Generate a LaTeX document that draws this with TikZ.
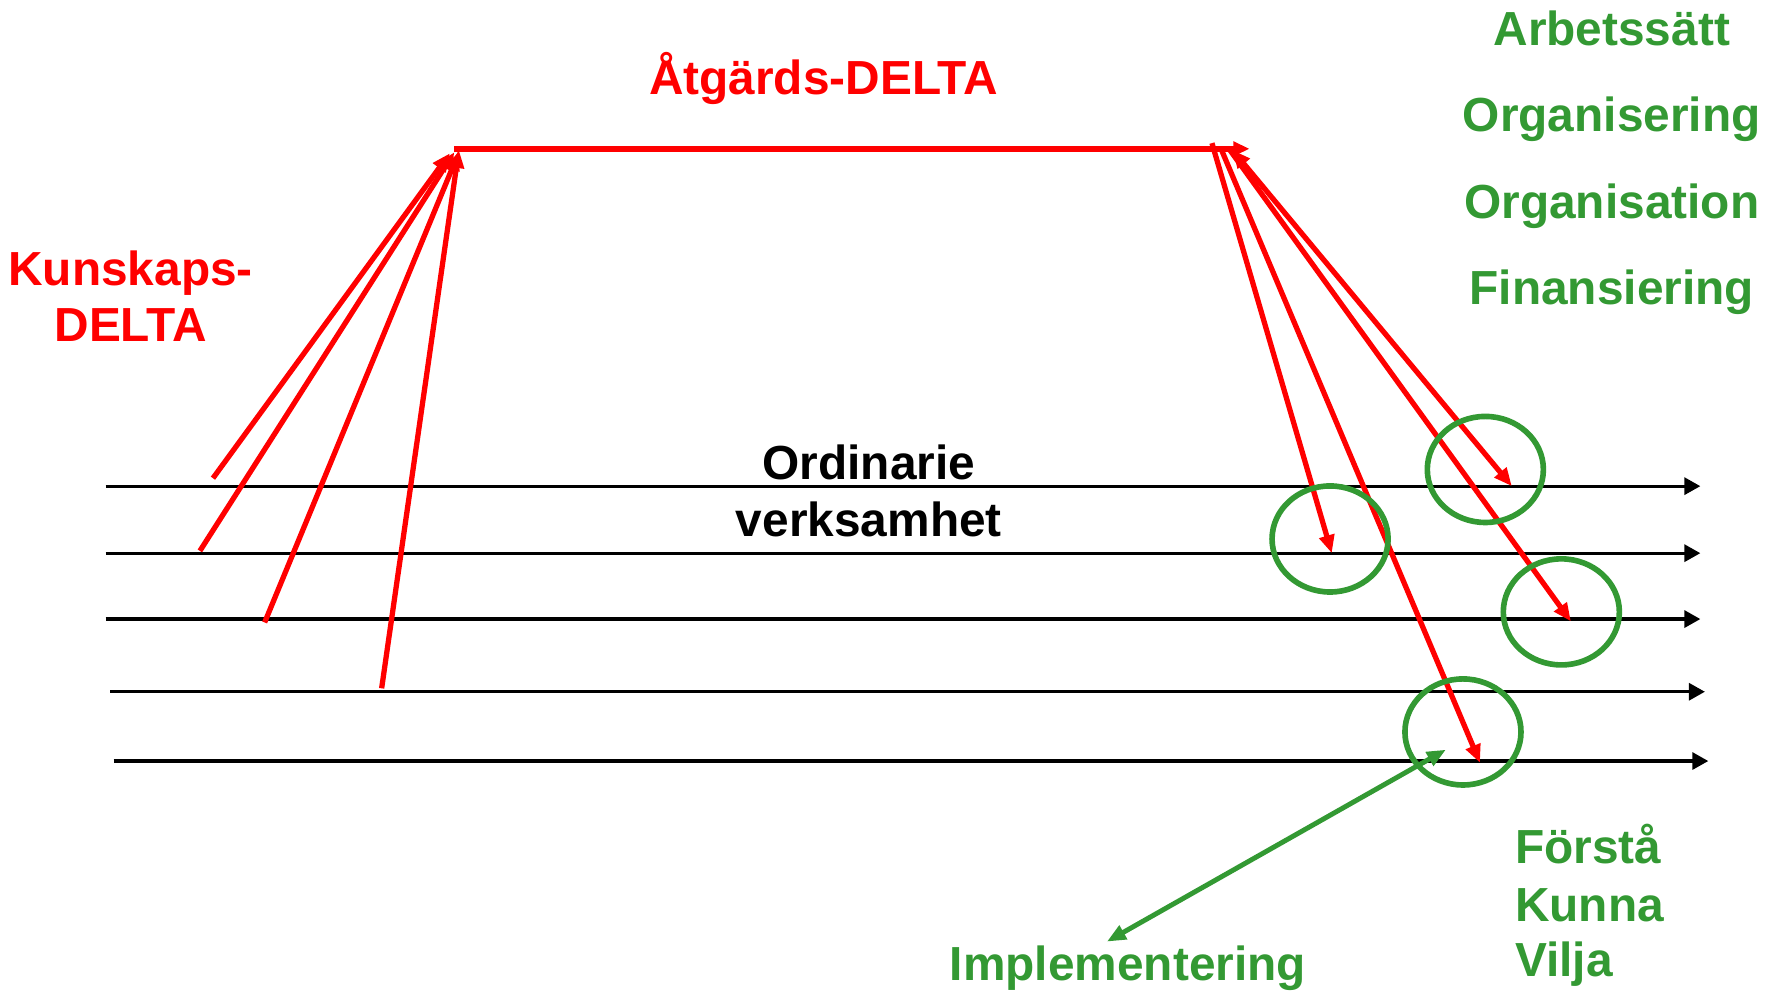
\documentclass[tikz,border=0pt]{standalone}
\usepackage{fontspec}
\setmainfont{Liberation Sans}
\usetikzlibrary{arrows.meta,shapes.geometric}
\definecolor{dgreen}{RGB}{51,153,51}
\begin{document}
\begin{tikzpicture}[x=0.01136cm,y=-0.01136cm,
  lbl/.style={font=\fontsize{13.6}{16}\selectfont\bfseries, inner sep=0pt, outer sep=0pt},
  flow/.style={black, line width=0.9pt, -{Triangle[length=0.16cm,width=0.17cm]}},
  redarr/.style={red, line width=1.5pt, -{Triangle[length=0.18cm,width=0.15cm]}},
  redtop/.style={red, line width=1.8pt, -{Triangle[length=0.16cm,width=0.14cm]}},
  ring/.style={draw=dgreen, line width=1.6pt, ellipse, minimum width=1.16cm, minimum height=1.06cm, inner sep=0pt},
  garr/.style={dgreen, line width=1.4pt, {Triangle[length=0.19cm,width=0.15cm]}-{Triangle[length=0.19cm,width=0.15cm]}}
]
\useasboundingbox (0,0) rectangle (1568,875);

% horizontal flow lines
\coordinate (r1s) at (93,428);  \coordinate (r1e) at (1497,428);
\coordinate (r2s) at (93,487);  \coordinate (r2e) at (1497,487);
\coordinate (r3s) at (93,545);  \coordinate (r3e) at (1497,545);
\coordinate (r4s) at (97,609);  \coordinate (r4e) at (1501,609);
\coordinate (r5s) at (100,670); \coordinate (r5e) at (1504,670);
\foreach \i in {1,...,5} \draw[flow] (r\i s) -- (r\i e);

% top red line
\coordinate (tl) at (400,131);
\coordinate (tr) at (1100,131);
\draw[redtop] (tl) -- (tr);

% left red arrows (Kunskaps-DELTA)
\coordinate (k1) at (187.5,421); \coordinate (a1) at (396,135);
\coordinate (k2) at (176,485);   \coordinate (a2) at (400,134);
\coordinate (k3) at (233,548);   \coordinate (a3) at (404,134);
\coordinate (k4) at (336,606);   \coordinate (a4) at (404,132);
\draw[redarr] (k1) -- (a1);
\draw[redarr] (k2) -- (a2);
\draw[redarr] (k3) -- (a3);
\draw[redarr] (k4) -- (a4);

% right red arrows
\coordinate (s1) at (1067,126); \coordinate (e1) at (1172.5,487);
\coordinate (s2) at (1075,131); \coordinate (e2) at (1303,671.5);
\coordinate (s3) at (1082,131); \coordinate (e3) at (1383,547);
\coordinate (s4) at (1085,132); \coordinate (e4) at (1331,428);
\draw[redarr] (s1) -- (e1);
\draw[redarr] (s2) -- (e2);
\draw[redarr] (s3) -- (e3);
\draw[redarr, {Triangle[length=0.18cm,width=0.15cm]}-{Triangle[length=0.18cm,width=0.15cm]}] (s4) -- (e4);

% green circles
\node[ring] (c1) at (1307.7,413.3) {};
\node[ring] (c2) at (1171,474.5) {};
\node[ring] (c3) at (1374.6,538.7) {};
\node[ring] (c4) at (1288,644.4) {};

% green double arrow
\coordinate (g1) at (1273,660);
\coordinate (g2) at (974.5,829);
\draw[garr] (g2) -- (g1);

% texts
\node[lbl, red, anchor=base] (atg) at (725,83) {Åtgärds-DELTA};
\node[lbl, red, anchor=base] (kun1) at (115,251) {Kunskaps-};
\node[lbl, red, anchor=base] (kun2) at (115,301) {DELTA};
\node[lbl, anchor=base] (ord1) at (765,422) {Ordinarie};
\node[lbl, anchor=base] (ord2) at (765,472) {verksamhet};
\node[lbl, dgreen, anchor=base] (imp) at (993,863) {Implementering};
\node[lbl, dgreen, anchor=base west] (f1) at (1334,760) {Förstå};
\node[lbl, dgreen, anchor=base west] (f2) at (1334,811) {Kunna};
\node[lbl, dgreen, anchor=base west] (f3) at (1334,860) {Vilja};
\node[lbl, dgreen, anchor=base] (l1) at (1419,40) {Arbetssätt};
\node[lbl, dgreen, anchor=base] (l2) at (1419,116) {Organisering};
\node[lbl, dgreen, anchor=base] (l3) at (1419,192) {Organisation};
\node[lbl, dgreen, anchor=base] (l4) at (1419,268) {Finansiering};
\end{tikzpicture}
\end{document}
